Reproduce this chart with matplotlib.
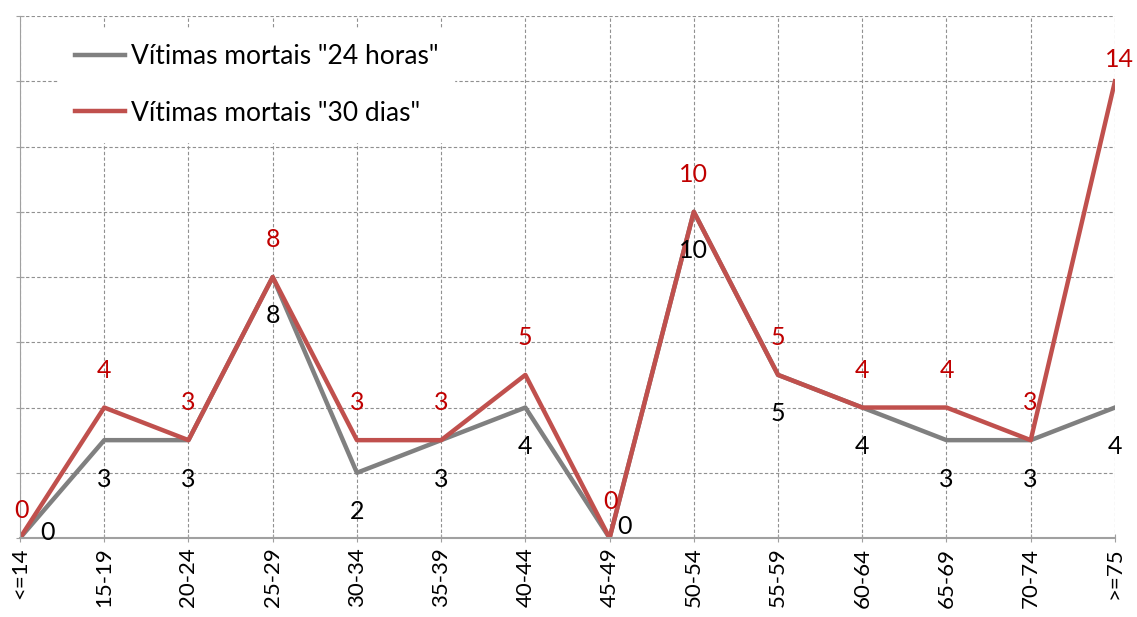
import matplotlib.pyplot as plt

plt.rcParams['font.family'] = ['Lato', 'DejaVu Sans']

faixas = ['<=14', '15-19', '20-24', '25-29', '30-34', '35-39', '40-44',
          '45-49', '50-54', '55-59', '60-64', '65-69', '70-74', '>=75']
mortos_24h = [0, 3, 3, 8, 2, 3, 4, 0, 10, 5, 4, 3, 3, 4]
mortos_30d = [0, 4, 3, 8, 3, 3, 5, 0, 10, 5, 4, 4, 3, 14]

cinza = '#808080'
vermelho = '#C0504D'

fig = plt.figure(figsize=(11.37, 6.17), dpi=100)
ax = fig.add_axes([0.0176, 0.128, 0.963, 0.846])

x = list(range(len(faixas)))
ax.plot(x, mortos_24h, color=cinza, lw=3.2, label='Vítimas mortais "24 horas"')
ax.plot(x, mortos_30d, color=vermelho, lw=3.2, label='Vítimas mortais "30 dias"')

# rótulos de dados
n = len(faixas)
for i, v in enumerate(mortos_24h):
    if v == 0:
        off = (20, 4) if i == 0 else (11, 8)
    else:
        off = (0, -28)
    ax.annotate(str(v), (i, v), xytext=off, textcoords='offset points',
                ha='center', va='center', fontsize=18, color='black')
for i, v in enumerate(mortos_30d):
    if v == 0:
        off = (1, 20) if i == 0 else (1, 26)
    elif i == n - 1:
        off = (3, 16)
    else:
        off = (0, 27)
    ax.annotate(str(v), (i, v), xytext=off, textcoords='offset points',
                ha='center', va='center', fontsize=18, color='#C00000')

ax.set_xlim(0, n - 1)
ax.set_ylim(0, 16)
ax.set_xticks(x)
ax.set_xticklabels(faixas, rotation=90, fontsize=16)
ax.set_yticks(range(0, 17, 2))
ax.set_yticklabels([])
ax.tick_params(axis='y', length=6, direction='inout', color='#a0a0a0')
ax.tick_params(axis='x', length=6, direction='inout', color='#a0a0a0', pad=4)
ax.grid(True, color='#909090', ls=(0, (3, 2)), lw=0.8)
for s in ['top', 'right']:
    ax.spines[s].set_visible(False)
ax.spines['left'].set_color('#a0a0a0')
ax.spines['bottom'].set_color('#a0a0a0')
ax.spines['bottom'].set_linewidth(1.5)

leg = ax.legend(loc='upper left', bbox_to_anchor=(0.024, 1.002), fontsize=19,
                frameon=True, fancybox=False, edgecolor='white',
                handlelength=1.9, handletextpad=0.2, labelspacing=1.2,
                borderpad=0.6)
leg.get_frame().set_alpha(1)

fig.savefig('out.png', dpi=100)
